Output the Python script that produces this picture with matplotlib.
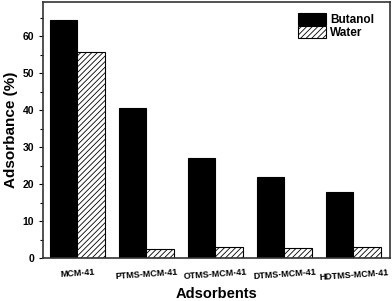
import matplotlib
matplotlib.use("Agg")
import matplotlib.pyplot as plt
import numpy as np
from matplotlib.ticker import MultipleLocator

categories = ["MCM-41", "PTMS-MCM-41", "OTMS-MCM-41", "DTMS-MCM-41", "HDTMS-MCM-41"]
butanol = [64.3, 40.7, 27.0, 22.0, 18.0]
water = [55.9, 2.5, 3.0, 2.7, 3.0]

plt.rcParams['font.family'] = ['Liberation Sans', 'DejaVu Sans']
plt.rcParams['hatch.linewidth'] = 0.6
plt.rcParams['hatch.color'] = '#444444'

fig = plt.figure(figsize=(3.92, 3.01), dpi=100)
ax = fig.add_axes([43/392, 1 - 258.3/301, (390-43)/392, (258.3-2)/301])

x = np.arange(len(categories))
w = 0.4
ax.bar(x, butanol, width=w, align='edge', color='black', edgecolor='black', linewidth=0.8, label='Butanol')
ax.bar(x + w, water, width=w, align='edge', color='white', edgecolor='black', linewidth=0.8,
       hatch='//////', label='Water')

ax.set_xlim(-0.10, 4.93)
ax.set_ylim(0, 69.3)
ax.set_xticks(x + w)
ax.set_xticklabels(categories, rotation=4, fontsize=6.5, fontweight='bold')
ax.tick_params(axis='x', length=0, pad=7)
ax.yaxis.set_major_locator(MultipleLocator(10))
ax.yaxis.set_minor_locator(MultipleLocator(5))
ax.tick_params(axis='y', which='major', direction='out', length=3, width=0.8, labelsize=7.5)
ax.tick_params(axis='y', which='minor', direction='out', length=2, width=0.8)
for lab in ax.get_yticklabels():
    lab.set_fontweight('bold')
for s in ax.spines.values():
    s.set_linewidth(1.2)
    s.set_color('#333333')

ax.set_ylabel('Adsorbance (%)', fontsize=11, fontweight='bold', labelpad=3)
ax.set_xlabel('Adsorbents', fontsize=10.5, fontweight='bold', labelpad=4)

leg = ax.legend(loc='upper right', frameon=False, prop={'weight': 'bold', 'size': 8.5},
                handlelength=2.4, handleheight=1.2, handletextpad=0.35, labelspacing=0.0,
                borderaxespad=0.5, bbox_to_anchor=(0.985, 1.0))

fig.savefig('out.png', dpi=100)
